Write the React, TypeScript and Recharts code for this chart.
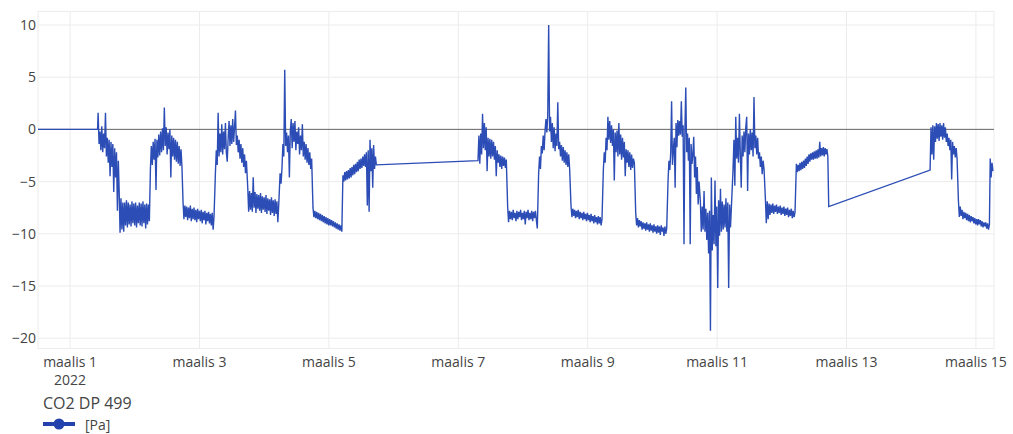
import { LineChart, Line, XAxis, YAxis, CartesianGrid, ReferenceLine } from 'recharts';

// time axis: hours counted from 1 March 2022 00:00
const tickDays = [1, 3, 5, 7, 9, 11, 13, 15];
const tickLabels = ['maalis 1', 'maalis 3', 'maalis 5', 'maalis 7', 'maalis 9', 'maalis 11', 'maalis 13', 'maalis 15'];
const yTicks = [-20, -15, -10, -5, 0, 5, 10];

// sensor sits at 0 before it starts reporting
const leadIn: [number, number][] = [[-11.9, 0], [10.2, 0]];

// readings in Pa, roughly every 20 min (peaks and troughs of the noisy signal)
const mar01Day = [1.6, -1.4, -0.2, -2.0, 0.3, -2.2, -0.4, -1.8, 1.6, -2.6, -0.8, -3.2, -1.0, -4.5, -1.2, -3.6, -1.4, -6.0, -1.8, -4.6, -2.2, -7.8, -3.0];
const mar01Night = [-5.8, -9.9, -6.6, -9.6, -7.0, -9.8, -7.0, -9.2, -6.8, -9.4, -7.0, -9.1, -7.2, -9.3, -6.9, -9.0, -7.1, -9.2, -7.0, -9.4, -7.3, -9.0, -7.0, -9.2, -7.1, -9.3, -6.9, -9.0, -7.2, -9.5, -7.1, -9.1, -7.2, -8.8];
const mar02Day = [-3.8, -1.6, -3.4, -1.2, -2.9, -0.9, -5.8, -1.0, -2.7, -0.5, -2.5, -0.2, -2.2, 0.1, -2.0, 2.1, -1.6, 0.2, -2.4, -0.3, -1.9, 0.0, -4.6, -0.6, -2.6, -0.8, -2.9, -1.0, -3.1, -1.2, -3.3, -1.6, -3.5, -1.9, -3.6];
const mar02Night = [-7.0, -8.6, -7.3, -8.4, -7.4, -8.7, -7.5, -8.5, -7.3, -8.8, -7.6, -8.6, -7.5, -8.7, -7.7, -8.9, -7.6, -8.6, -7.8, -8.8, -7.7, -9.0, -7.9, -8.7, -7.8, -9.1, -8.0, -8.8, -7.9, -9.0, -8.1, -9.2, -8.0, -9.6, -8.3];
const mar03Day = [-4.2, -2.0, -3.4, 1.6, -2.6, -0.4, -2.2, 0.5, -2.4, -0.2, -1.9, 0.6, -2.2, -3.1, -0.8, 0.8, -1.6, 0.4, -1.4, 1.0, -1.2, 0.2, 1.8, -1.5, -0.6, -2.2, -1.0, -2.8, -1.4, -3.2, -1.8, -3.6, -2.4, -4.2, -3.0];
const mar03Eve = [-5.6, -7.9, -5.9, -7.7, -6.1, -7.9, -4.6, -7.5, -6.0, -8.0, -6.2, -7.6, -6.3, -7.8, -6.1, -8.0, -6.4, -7.7, -6.5, -7.9, -6.3, -8.1, -6.6, -7.8, -6.7, -8.2, -6.5, -8.0, -6.8, -8.3, -6.7, -8.1, -6.9, -8.9, -7.2];
const mar04Day = [-4.2, -5.2, -3.8, -1.4, -2.6, 5.7, -1.6, -0.3, -2.2, -0.6, -4.6, -0.2, 1.0, -1.8, 0.6, -1.2, 0.8, -2.0, -0.2, -1.4, 0.2, -2.4, -0.6, -2.0, 0.5, -2.6, -1.2, -2.9, -1.4, -3.2, -1.8, -3.4, -2.2, -3.8, -2.8];
const mar04Night = [-7.5, -8.4, -7.8, -8.5, -7.9, -8.6, -8.0, -8.7, -8.1, -8.8, -8.2, -8.9, -8.3, -9.0, -8.4, -9.1, -8.5, -9.2, -8.6, -9.2, -8.7, -9.3, -8.8, -9.4, -8.9, -9.5, -9.0, -9.6, -9.1, -9.7, -9.2, -9.8];
const mar05Day = [-4.4, -5.0, -4.1, -4.9, -4.0, -4.8, -3.9, -4.7, -3.7, -4.6, -3.6, -4.4, -3.4, -4.3, -3.3, -4.1, -3.1, -4.0, -2.9, -3.8, -2.8, -3.7, -2.6, -3.5, -2.4, -3.6, -2.2, -7.3, -2.0, -7.9, -1.0, -4.0, -1.8, -5.6, -1.5, -3.8, -2.6, -3.4];
const mar07Day = [-3.0, -0.6, -3.3, -0.4, -2.4, 1.5, -1.8, 0.6, -2.0, 0.2, -4.0, -0.8, -2.6, -0.9, -2.8, -1.0, -2.6, -1.2, -2.9, -1.6, -4.5, -2.0, -3.2, -2.4, -3.6, -2.5, -3.8, -2.6, -3.5, -2.7, -3.7, -2.9];
const mar07Night = [-7.4, -8.9, -7.8, -8.6, -7.9, -8.7, -7.7, -8.5, -8.0, -8.8, -7.8, -8.6, -7.9, -8.4, -7.7, -8.7, -8.0, -8.6, -7.8, -9.1, -7.9, -8.5, -7.7, -8.7, -8.0, -8.6, -7.8, -8.8, -7.9, -8.5, -7.8, -8.7, -9.5];
const mar08Day = [-4.2, -2.6, -3.8, -1.6, -2.3, -0.6, -2.0, -0.2, 1.0, -0.3, 1.4, 10.0, -0.2, 1.2, -1.2, 0.6, -1.8, 0.2, -2.1, -0.4, -1.6, 2.6, -1.9, -1.2, -2.6, -1.5, -3.0, -1.7, -3.2, -2.0, -3.4, -2.2, -3.6, -2.4, -3.8];
const mar08Night = [-7.3, -8.4, -7.6, -8.3, -7.7, -8.5, -7.8, -8.4, -7.7, -8.6, -7.9, -8.5, -8.0, -8.7, -7.9, -8.6, -8.1, -8.8, -8.0, -8.7, -8.2, -8.9, -8.1, -8.8, -8.3, -9.0, -8.2, -8.9, -8.4, -9.1, -8.3, -9.0, -8.4, -9.2, -8.6];
const mar09Day = [-3.9, -2.2, -3.2, -0.8, -2.0, 1.2, -1.0, 0.8, -1.3, 0.4, -1.6, 0.0, -4.9, -0.3, -2.2, -0.1, -2.6, 0.6, -2.4, -0.5, -2.9, -0.8, -2.7, -1.2, -4.5, -1.9, -3.2, -2.0, -3.6, -2.2, -3.9, -2.4, -3.7, -2.8, -3.2];
const mar09Night = [-8.0, -9.2, -8.5, -9.4, -8.7, -9.3, -8.8, -9.6, -8.9, -9.5, -9.0, -9.7, -8.9, -9.6, -9.1, -9.8, -9.0, -9.7, -9.2, -9.9, -9.1, -9.8, -9.3, -10.0, -9.2, -9.9, -9.3, -10.1, -9.2, -9.8, -9.4, -10.2, -9.3, -10.0, -9.5];
const mar10Day = [-4.9, -3.0, -3.9, -2.2, 2.7, -3.4, -1.9, -0.8, -5.6, 0.6, -1.7, 0.9, -0.6, 0.8, -0.5, 2.7, -0.7, 0.4, -11.0, -0.2, 4.0, -2.2, -0.4, -3.0, -0.8, -11.0, -1.4, -3.3, -2.4, -0.7, -4.6, -2.6, -6.2, -3.6, -7.2, -5.0];
const mar10Eve = [-7.0, -9.8, -7.4, -9.6, -5.9, -9.8, -7.6, -10.6, -8.0, -11.9, -7.8, -19.3, -4.6, -11.6, -8.2, -11.0, -4.9, -11.2, -7.4, -15.2, -6.8, -10.2, -5.7, -9.8, -6.9, -9.6, -7.2, -9.4, -6.6, -9.8, -7.0, -15.2, -7.2, -9.4, -7.4];
const mar11Day = [-3.9, -1.0, -5.4, 1.2, -2.8, -0.8, -3.2, 1.5, -2.4, -5.6, -0.6, -2.6, -0.2, -2.2, 0.2, 1.2, -5.9, -0.4, -2.4, 0.0, -2.0, -0.3, -2.6, 3.1, -1.8, -0.6, -2.4, -0.8, -2.8, -2.2, -3.6, -2.6, -4.3, -3.0, -3.8];
const mar11Night = [-6.6, -9.0, -6.9, -8.6, -7.1, -8.2, -7.2, -8.0, -7.1, -8.1, -7.3, -7.9, -7.2, -8.1, -7.4, -8.0, -7.3, -8.2, -7.5, -8.1, -7.4, -8.3, -7.6, -8.2, -7.5, -8.4, -7.7, -8.3, -7.6, -8.5, -7.8, -8.4, -7.9];
const mar12Day = [-3.3, -4.1, -3.4, -4.0, -3.2, -3.9, -3.1, -3.8, -3.0, -3.7, -2.8, -3.5, -2.6, -3.3, -2.4, -3.1, -2.3, -2.9, -2.2, -2.9, -2.1, -2.8, -2.0, -2.8, -1.9, -2.7, -1.2, -2.6, -1.8, -2.5, -1.7, -2.6, -1.8, -2.4, -1.9, -2.6, -7.4];
const mar14Day = [-3.9, 0.2, -2.4, 0.4, -2.9, 0.3, -1.2, 0.6, -0.9, 0.5, -1.1, 0.6, -0.7, 0.4, -1.0, 0.6, -0.8, 0.2, -1.2, -0.4, -1.6, -0.8, -2.0, -1.0, -4.8, -1.2, -2.4, -1.6, -2.7, -1.8, -2.8];
const mar14Night = [-6.8, -8.4, -7.4, -8.3, -7.7, -8.6, -7.9, -8.5, -8.0, -8.7, -8.1, -8.8, -8.2, -8.9, -8.3, -8.8, -8.4, -9.0, -8.5, -9.1, -8.6, -9.2, -8.6, -9.1, -8.7, -9.3, -8.8, -9.4, -8.9, -9.3, -8.9, -9.5, -9.0, -9.6, -9.1];
const mar15Morning = [-2.8, -4.6, -3.2, -4.0];

const blocks = [
  mar01Day, mar01Night, mar02Day, mar02Night, mar03Day, mar03Eve, mar04Day, mar04Night, mar05Day,
  mar07Day, mar07Night, mar08Day, mar08Night, mar09Day, mar09Night, mar10Day, mar10Eve,
  mar11Day, mar11Night, mar12Day, mar14Day, mar14Night, mar15Morning,
];
// first and last hour of each block
const blockSpans: [number, number][] = [
  [10.4, 17.9], [18.2, 29.4], [29.8, 41.5], [41.9, 53.4], [53.9, 65.4], [65.9, 77.4], [77.9, 89.6], [90.1, 100.8], [101.2, 113.6],
  [151.3, 161.8], [162.3, 173.3], [173.8, 185.3], [185.8, 197.3], [197.8, 209.3], [209.8, 221.3], [221.8, 233.3], [233.8, 245.3],
  [245.9, 257.4], [257.9, 268.9], [269.4, 281.4], [319.0, 329.0], [329.5, 341.0], [341.3, 342.3],
];

const data = [
  ...leadIn.map(([t, v]) => ({ t, v })),
  ...blocks.flatMap((vals, i) => {
    const [a, b] = blockSpans[i];
    return vals.map((v, j) => ({ t: a + (j * (b - a)) / (vals.length - 1), v }));
  }),
];

const ticks = tickDays.map((d) => (d - 1) * 24);
const FONT = '"Open Sans", sans-serif';
const GREY = '#444';

const XTick = ({ x, y, payload }: any) => {
  const i = ticks.indexOf(payload.value);
  return (
    <g>
      <text x={x} y={y} dy={10} textAnchor="middle" fill={GREY} fontSize={14} fontFamily={FONT}>
        {tickLabels[i]}
      </text>
      {i === 0 && (
        <text x={x} y={y} dy={28} textAnchor="middle" fill={GREY} fontSize={14} fontFamily={FONT}>
          2022
        </text>
      )}
    </g>
  );
};

export default function App() {
  return (
    <div style={{ position: 'relative', width: 1013, height: 434, fontFamily: FONT, background: '#fff' }}>
      <style>{'body{margin:0}'}</style>
      <LineChart width={1013} height={434} data={data} margin={{ top: 11.4, right: 19, bottom: 55.4, left: 0 }}>
        <CartesianGrid stroke="#ececec" strokeWidth={1} />
        <XAxis
          dataKey="t"
          type="number"
          domain={[-11.9, 342.7]}
          ticks={ticks}
          axisLine={false}
          tickLine={false}
          height={30}
          tick={<XTick />}
          interval={0}
        />
        <YAxis
          type="number"
          domain={[-21, 11.3]}
          ticks={yTicks}
          width={38}
          axisLine={false}
          tickLine={false}
          tickSize={0}
          tickMargin={2}
          tick={{ fill: GREY, fontSize: 14, fontFamily: FONT }}
          tickFormatter={(v: number) => (v < 0 ? `\u2212${Math.abs(v)}` : `${v}`)}
        />
        <ReferenceLine y={0} stroke="#666" strokeWidth={1} />
        <Line
          type="linear"
          dataKey="v"
          stroke="#2c4db5"
          strokeWidth={1.4}
          dot={false}
          isAnimationActive={false}
        />
      </LineChart>
      <div style={{ position: 'absolute', left: 43, top: 392, fontSize: 16, color: GREY }}>CO2 DP 499</div>
      <div style={{ position: 'absolute', left: 42, top: 414, display: 'flex', alignItems: 'center', fontSize: 14, color: GREY }}>
        <svg width={34} height={20}>
          <line x1={1} y1={10} x2={33} y2={10} stroke="#2342ad" strokeWidth={4} />
          <circle cx={17} cy={10} r={5.5} fill="#2342ad" />
        </svg>
        <span style={{ marginLeft: 9 }}>[Pa]</span>
      </div>
    </div>
  );
}
